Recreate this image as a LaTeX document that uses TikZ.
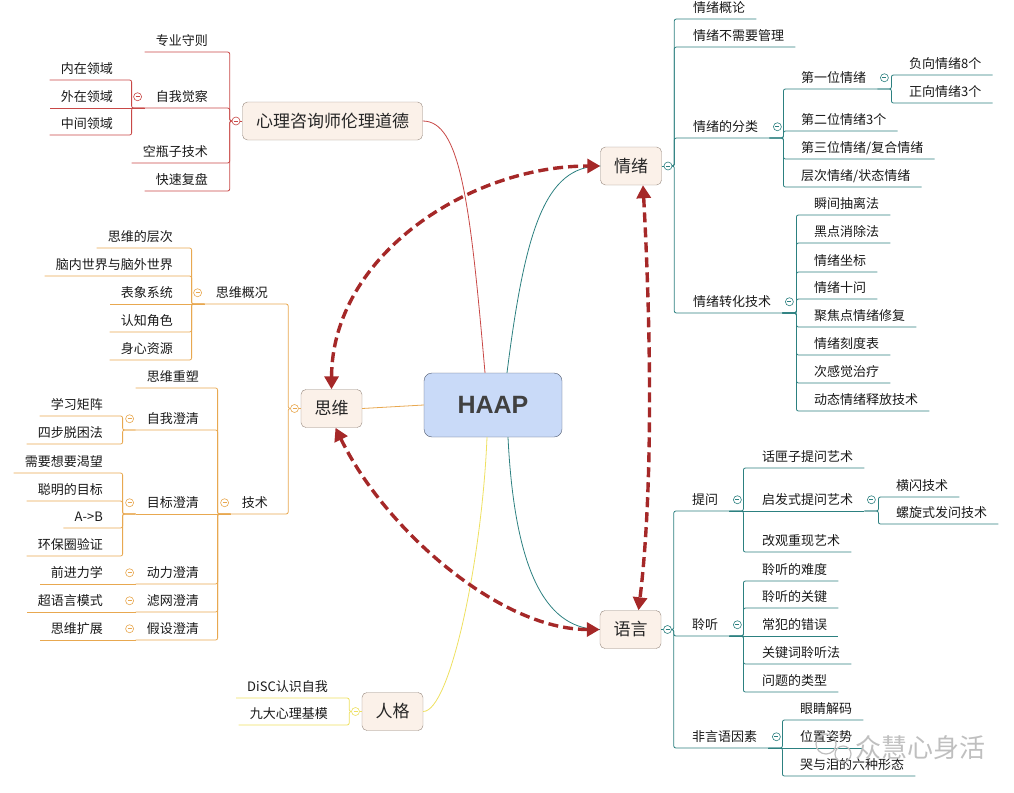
\documentclass[tikz,border=0pt]{standalone}
\usepackage{xcolor}
\usepackage{fontspec}
\usepackage{tikz}
\usetikzlibrary{arrows.meta,positioning}
\setmainfont{Noto Sans CJK SC}
\newfontfamily\hubfont{Liberation Sans}

\definecolor{ethic}{RGB}{200,72,70}
\definecolor{think}{RGB}{232,168,80}
\definecolor{person}{RGB}{238,224,96}
\definecolor{emo}{RGB}{44,128,128}
\definecolor{boxfill}{RGB}{251,241,233}
\definecolor{boxline}{RGB}{150,136,126}
\definecolor{hubfill}{RGB}{201,218,248}
\definecolor{hubline}{RGB}{80,90,110}
\definecolor{hubtext}{RGB}{64,64,64}
\definecolor{linkred}{RGB}{165,40,40}

\begin{document}
\begin{tikzpicture}[
    x=1pt, y=-1pt,
    topic/.style={draw=boxline, fill=boxfill, rounded corners=5pt, minimum height=38pt, inner xsep=13.5pt, text=black!85, font=\fontsize{17}{20}\selectfont},
    sub/.style={inner xsep=11pt, inner ysep=3.8pt, text height=12pt, text depth=2.5pt, text=black!90, font=\fontsize{13}{15}\selectfont},
    rsub/.style={sub, anchor=south west},
    lsub/.style={sub, anchor=south east},
    mk/.style={circle, draw=#1, fill=white, line width=0.6pt, inner sep=0pt, minimum size=8pt,
        path picture={\draw[#1, line width=0.6pt] ([xshift=-2pt]path picture bounding box.center) -- ([xshift=2pt]path picture bounding box.center);}},
    br/.style={draw=#1, line width=0.8pt, rounded corners=2pt},
    link/.style={<->, >={Triangle[length=13pt,width=14pt]}, line width=3.4pt, dash pattern=on 10pt off 5pt, draw=linkred}
]
    \useasboundingbox (0,0) rectangle (1014,792);

    % Hub
    \node[draw=hubline, fill=hubfill, rounded corners=8pt, minimum width=138pt, minimum height=64pt, text=hubtext, font=\hubfont\bfseries\fontsize{25}{30}\selectfont] (haap) at (493,405) {HAAP};

    % Main topics
    \node[topic] (lunli) at (332.5,121) {心理咨询师伦理道德};
    \node[topic] (siwei) at (331.5,408.5) {思维};
    \node[topic] (renge) at (392.5,711.5) {人格};
    \node[topic] (qingxu) at (631,166) {情绪};
    \node[topic] (yuyan) at (630.5,629.5) {语言};

    \draw[ethic, line width=0.8pt] ([xshift=-8pt]haap.north) .. controls (470,200) and (460,121) .. (lunli.east);
    \draw[emo, line width=0.8pt] ([xshift=14pt]haap.north) .. controls (525,230) and (545,166) .. (qingxu.west);
    \draw[think, line width=0.8pt] (haap.west) -- (siwei.east);
    \draw[person, line width=0.8pt] ([xshift=-6pt]haap.south) .. controls (482,560) and (450,711.5) .. (renge.east);
    \draw[emo, line width=0.8pt] ([xshift=15pt]haap.south) .. controls (515,580) and (550,629.5) .. (yuyan.west);

    % Ethics branch
    \node[lsub] (zysz) at (219,52) {专业守则};
    \node[lsub] (zwjc) at (219,108) {自我觉察};
    \node[lsub] (kpz) at (219,163) {空瓶子技术};
    \node[lsub] (ksfp) at (219,191) {快速复盘};
    \node[lsub] (nzly) at (124,80) {内在领域};
    \node[lsub] (wzly) at (124,108) {外在领域};
    \node[lsub] (zjly) at (124,135) {中间领域};

    % Thinking branch
    \node[lsub] (swgk) at (279,304) {思维概况};
    \node[lsub] (js) at (279,514) {技术};
    \node[lsub] (cc) at (184,248) {思维的层次};
    \node[lsub] (nn) at (184,276) {脑内世界与脑外世界};
    \node[lsub] (bx) at (184,304) {表象系统};
    \node[lsub] (rz) at (184,332) {认知角色};
    \node[lsub] (sx) at (184,360) {身心资源};
    \node[lsub] (swcs) at (210,388) {思维重塑};
    \node[lsub] (zwcq) at (210,430) {自我澄清};
    \node[lsub] (mbcq) at (210,514) {目标澄清};
    \node[lsub] (dlcq) at (210,584) {动力澄清};
    \node[lsub] (lwcq) at (210,612) {滤网澄清};
    \node[lsub] (jscq) at (210,640) {假设澄清};
    \node[lsub] (xxjz) at (114,416) {学习矩阵};
    \node[lsub] (sbtk) at (114,444) {四步脱困法};
    \node[lsub] (xyky) at (114,473) {需要想要渴望};
    \node[lsub] (cmmb) at (114,501) {聪明的目标};
    \node[lsub] (ab) at (114,528) {A->B};
    \node[lsub] (hbq) at (114,556) {环保圈验证};
    \node[lsub] (qjlx) at (114,584) {前进力学};
    \node[lsub] (cyy) at (114,612) {超语言模式};
    \node[lsub] (swkz) at (114,640) {思维扩展};

    % Personality branch
    \node[lsub] (disc) at (339,698) {DiSC认识自我};
    \node[lsub] (jdjm) at (339,725) {九大心理基模};

    % Emotion branch
    \node[rsub] (gl) at (682,19) {情绪概论};
    \node[rsub] (bxy) at (682,47) {情绪不需要管理};
    \node[rsub] (fl) at (682,138) {情绪的分类};
    \node[rsub] (zh) at (682,313) {情绪转化技术};
    \node[rsub] (fl1) at (790,89) {第一位情绪};
    \node[rsub] (fl2) at (790,131) {第二位情绪3个};
    \node[rsub] (fl3) at (790,159) {第三位情绪/复合情绪};
    \node[rsub] (fl4) at (790,187) {层次情绪/状态情绪};
    \node[rsub] (fx) at (898,75) {负向情绪8个};
    \node[rsub] (zx) at (898,103) {正向情绪3个};
    \node[rsub] (zh1) at (803,215) {瞬间抽离法};
    \node[rsub] (zh2) at (803,243) {黑点消除法};
    \node[rsub] (zh3) at (803,272) {情绪坐标};
    \node[rsub] (zh4) at (803,299) {情绪十问};
    \node[rsub] (zh5) at (803,327) {聚焦点情绪修复};
    \node[rsub] (zh6) at (803,355) {情绪刻度表};
    \node[rsub] (zh7) at (803,383) {次感觉治疗};
    \node[rsub] (zh8) at (803,411) {动态情绪释放技术};

    % Language branch
    \node[rsub] (tw) at (681,511) {提问};
    \node[rsub] (lt) at (681,636) {聆听};
    \node[rsub] (fy) at (681,748) {非言语因素};
    \node[rsub] (tw1) at (751,468) {话匣子提问艺术};
    \node[rsub] (tw2) at (751,511) {启发式提问艺术};
    \node[rsub] (tw3) at (751,552) {改观重现艺术};
    \node[rsub] (hs) at (885,497) {横闪技术};
    \node[rsub] (lx) at (885,524) {螺旋式发问技术};
    \node[rsub] (lt1) at (751,581) {聆听的难度};
    \node[rsub] (lt2) at (751,608) {聆听的关键};
    \node[rsub] (lt3) at (751,636) {常犯的错误};
    \node[rsub] (lt4) at (751,664) {关键词聆听法};
    \node[rsub] (lt5) at (751,692) {问题的类型};
    \node[rsub] (fy1) at (789,720) {眼睛解码};
    \node[rsub] (fy2) at (789,748) {位置姿势};
    \node[rsub] (fy3) at (789,776) {哭与泪的六种形态};

    % Markers
    \node[mk=ethic, left=2pt of lunli] (lunli-m) {};
    \node[mk=think, left=2pt of siwei] (siwei-m) {};
    \node[mk=person, left=2pt of renge] (renge-m) {};
    \node[mk=emo, right=2pt of qingxu] (qingxu-m) {};
    \node[mk=emo, right=2pt of yuyan] (yuyan-m) {};

    % Left brackets
    \draw[br=ethic] (lunli) -- (lunli-m);
    \foreach \c in {zysz,zwjc,kpz,ksfp}
        \draw[br=ethic] (lunli-m.west) -- ++(-2,0) |- (\c.south west);
    \foreach \c in {nzly,zjly}
        \draw[br=ethic] (zwjc.south west) -- ++(-13,0) |- (\c.south west);
    \draw[br=ethic] (zwjc.south west) -- (wzly.south west);

    \draw[br=think] (siwei) -- (siwei-m);
    \foreach \c in {swgk,js}
        \draw[br=think] (siwei-m.west) -- ++(-2,0) |- (\c.south west);
    \foreach \c in {cc,nn,rz,sx}
        \draw[br=think] (swgk.south west) -- ++(-13,0) |- (\c.south west);
    \draw[br=think] (swgk.south west) -- (bx.south west);
    \foreach \c in {swcs,zwcq,dlcq,lwcq,jscq}
        \draw[br=think] (js.south west) -- ++(-13,0) |- (\c.south west);
    \draw[br=think] (js.south west) -- (mbcq.south west);
    \foreach \c in {xxjz,sbtk}
        \draw[br=think] (zwcq.south west) -- ++(-13,0) |- (\c.south west);
    \foreach \c in {xyky,cmmb,ab,hbq}
        \draw[br=think] (mbcq.south west) -- ++(-13,0) |- (\c.south west);
    \draw[br=think] (dlcq.south west) -- (qjlx.south west);
    \draw[br=think] (lwcq.south west) -- (cyy.south west);
    \draw[br=think] (jscq.south west) -- (swkz.south west);

    \draw[br=person] (renge) -- (renge-m);
    \foreach \c in {disc,jdjm}
        \draw[br=person] (renge-m.west) -- ++(-2,0) |- (\c.south west);

    % Right brackets
    \draw[br=emo] (qingxu) -- (qingxu-m);
    \foreach \c in {gl,bxy,fl,zh}
        \draw[br=emo] (qingxu-m.east) -- ++(2,0) |- (\c.south east);
    \foreach \c in {fl1,fl2,fl3,fl4}
        \draw[br=emo] (fl.south east) -- ++(14,0) |- (\c.south east);
    \foreach \c in {fx,zx}
        \draw[br=emo] (fl1.south east) -- ++(14,0) |- (\c.south east);
    \foreach \c in {zh1,zh2,zh3,zh4,zh5,zh6,zh7,zh8}
        \draw[br=emo] (zh.south east) -- ++(14,0) |- (\c.south east);

    \draw[br=emo] (yuyan) -- (yuyan-m);
    \foreach \c in {tw,lt,fy}
        \draw[br=emo] (yuyan-m.east) -- ++(2,0) |- (\c.south east);
    \foreach \c in {tw1,tw3}
        \draw[br=emo] (tw.south east) -- ++(14,0) |- (\c.south east);
    \draw[br=emo] (tw.south east) -- (tw2.south east);
    \foreach \c in {hs,lx}
        \draw[br=emo] (tw2.south east) -- ++(14,0) |- (\c.south east);
    \foreach \c in {lt1,lt2,lt4,lt5}
        \draw[br=emo] (lt.south east) -- ++(14,0) |- (\c.south east);
    \draw[br=emo] (lt.south east) -- (lt3.south east);
    \foreach \c in {fy1,fy3}
        \draw[br=emo] (fy.south east) -- ++(14,0) |- (\c.south east);
    \draw[br=emo] (fy.south east) -- (fy2.south east);

    % Sub markers
    \node[mk=ethic] (zwjc-m) at ([xshift=-7pt]zwjc.west) {};
    \node[mk=think] (swgk-m) at ([xshift=-7pt]swgk.west) {};
    \node[mk=think] (js-m) at ([xshift=-6pt]js.west) {};
    \node[mk=think] (zwcq-m) at ([xshift=-6pt]zwcq.west) {};
    \node[mk=think] (mbcq-m) at ([xshift=-6pt]mbcq.west) {};
    \node[mk=think] (dlcq-m) at ([xshift=-6pt]dlcq.west) {};
    \node[mk=think] (lwcq-m) at ([xshift=-6pt]lwcq.west) {};
    \node[mk=think] (jscq-m) at ([xshift=-6pt]jscq.west) {};
    \node[mk=emo] (fl-m) at ([xshift=8pt]fl.east) {};
    \node[mk=emo] (fl1-m) at ([xshift=7pt]fl1.east) {};
    \node[mk=emo] (zh-m) at ([xshift=7pt]zh.east) {};
    \node[mk=emo] (tw-m) at ([xshift=8pt]tw.east) {};
    \node[mk=emo] (tw2-m) at ([xshift=7pt]tw2.east) {};
    \node[mk=emo] (lt-m) at ([xshift=8pt]lt.east) {};
    \node[mk=emo] (fy-m) at ([xshift=8pt]fy.east) {};

    % Links
    \draw[link] (siwei.north) .. controls (332,255) and (470,166) .. (qingxu.west);
    \draw[link] ([xshift=4pt]siwei.south) .. controls (385,530) and (500,629.5) .. (yuyan.west);
    \draw[link] ([xshift=12pt]qingxu.south) .. controls (652,350) and (652,500) .. ([xshift=8pt]yuyan.north);

    % Watermark
    \draw[gray!50, line width=1.2pt] (826,744) circle (10pt) (843,754) circle (8pt);
    \node[text=gray!50, font=\fontsize{26}{30}\selectfont] (wm) at (920,748) {众慧心身活};
\end{tikzpicture}
\end{document}
